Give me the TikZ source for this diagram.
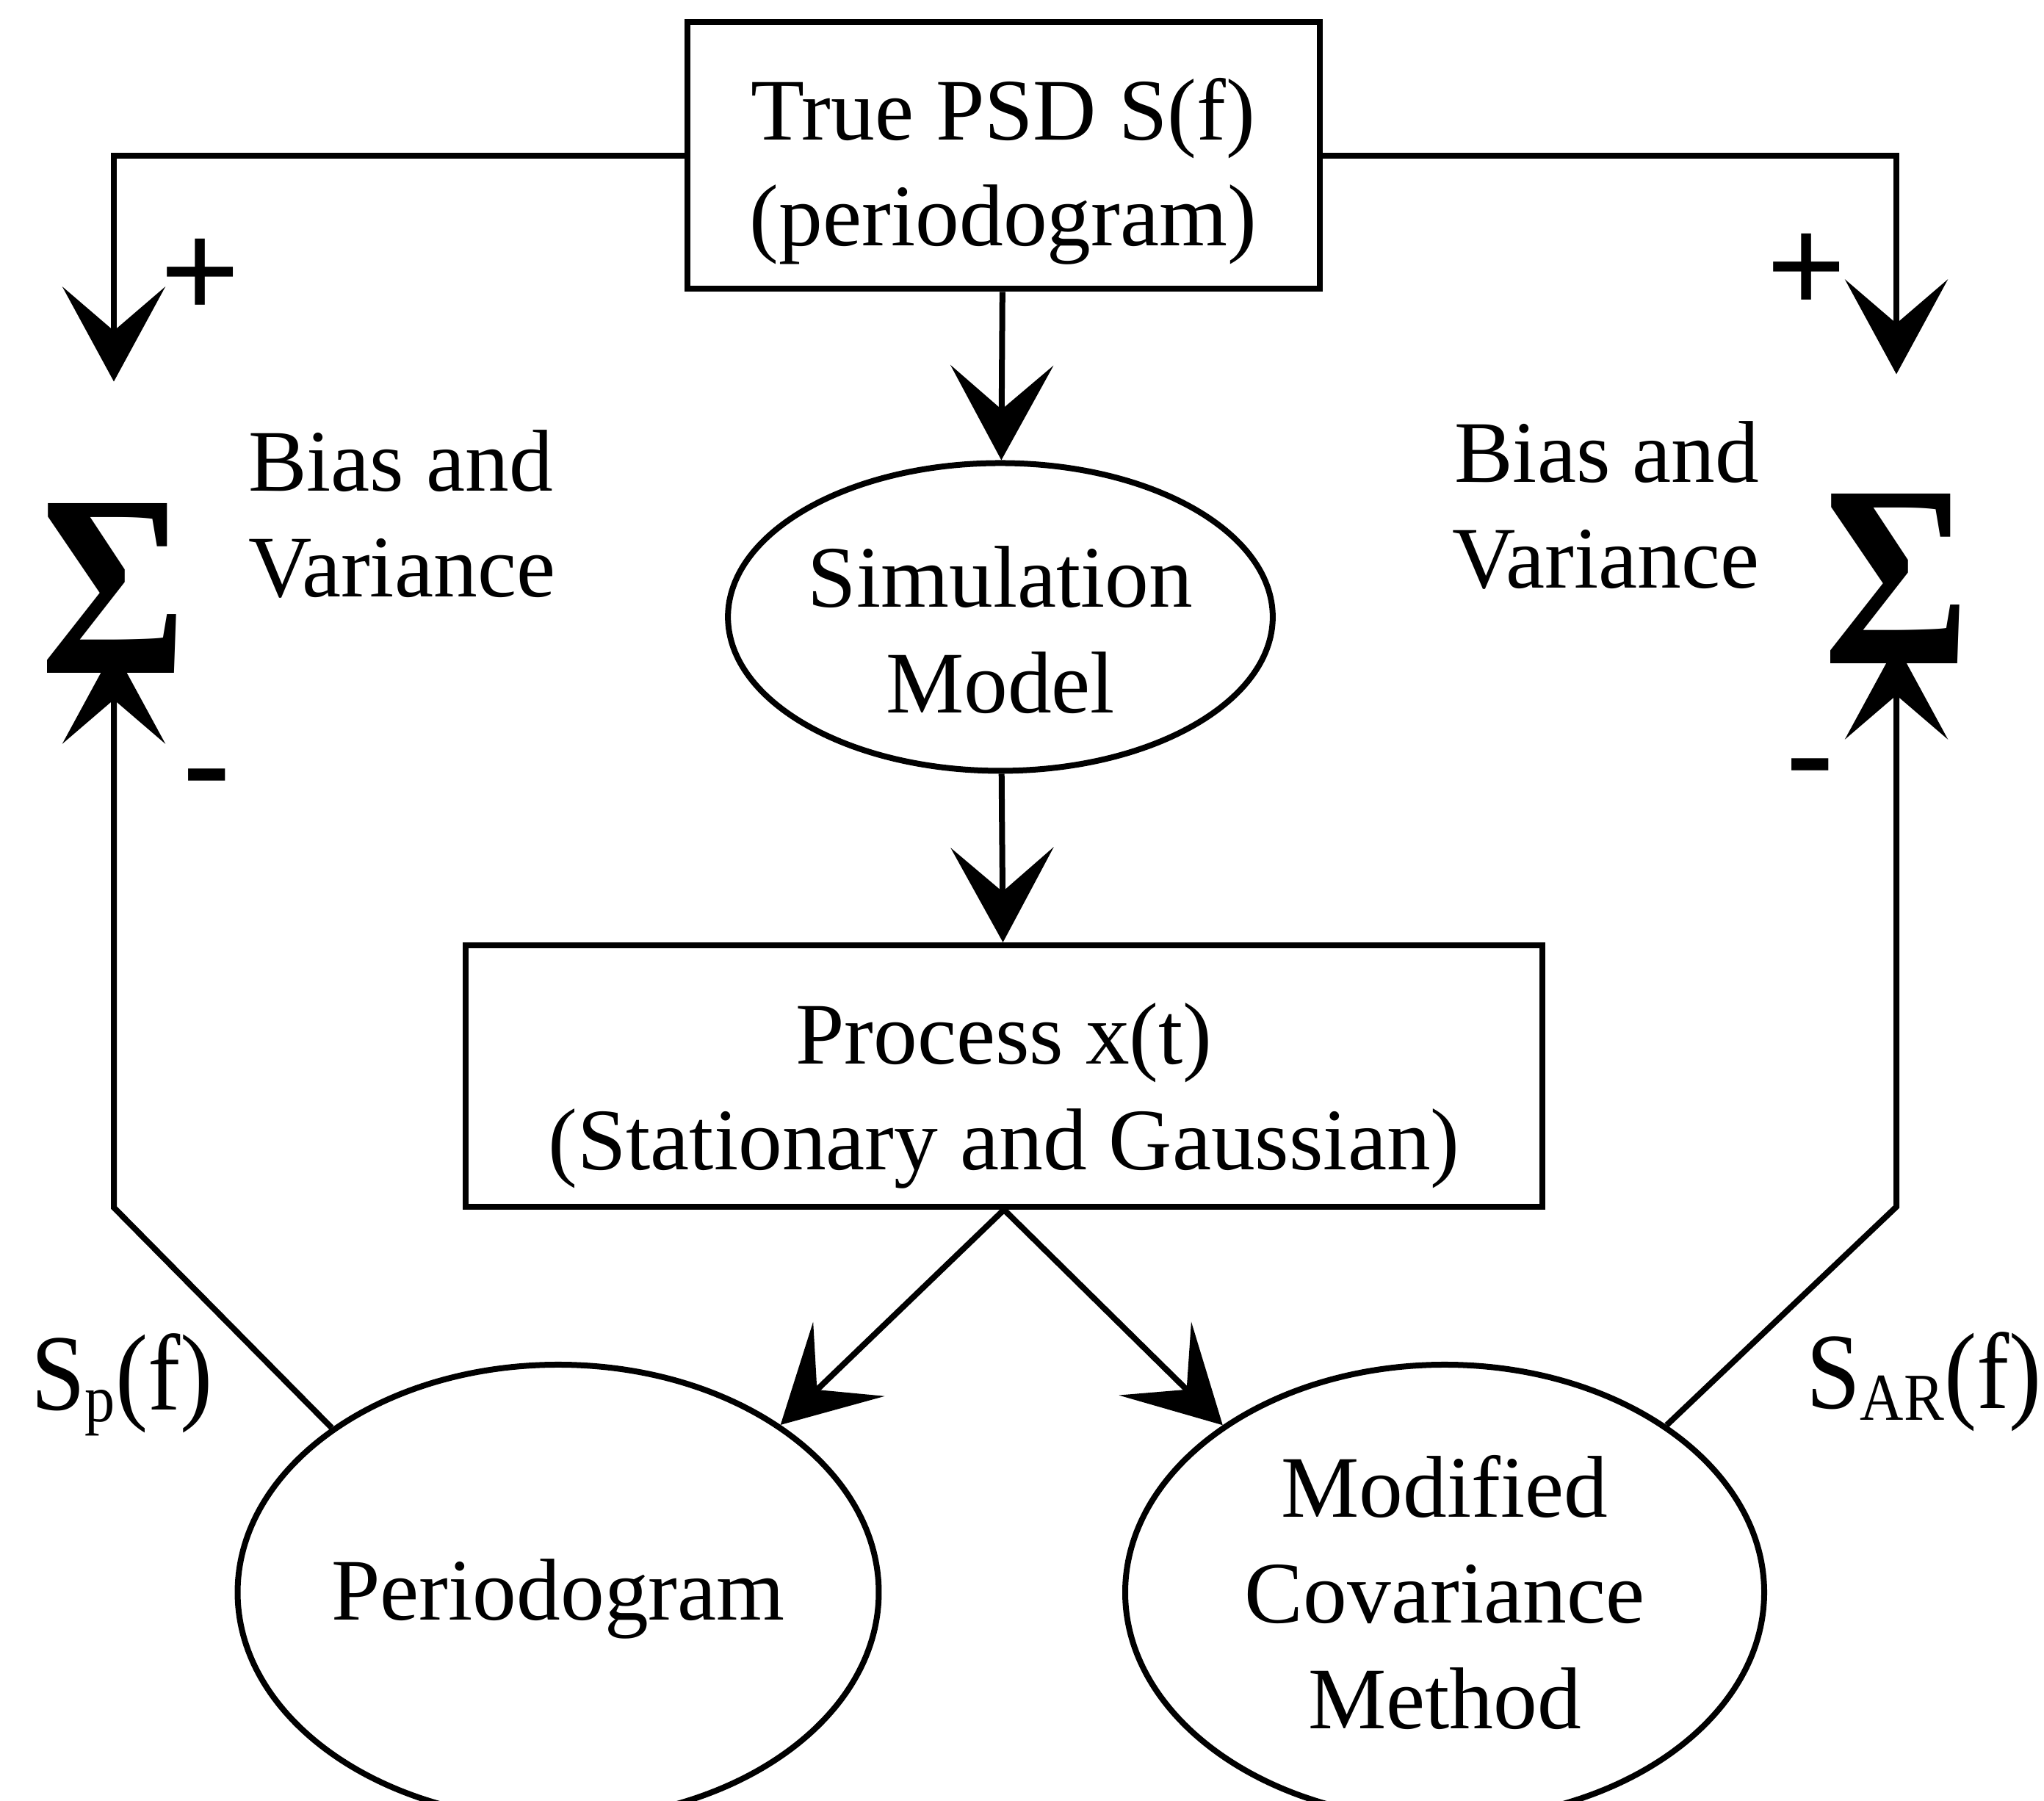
\documentclass[tikz,border=0pt]{standalone}
\usepackage{fontspec}
\setmainfont{Liberation Serif}
\usepackage{graphicx}
\usetikzlibrary{arrows.meta, shapes.geometric}

% lowered small text for the estimate labels
\newcommand{\subtxt}[1]{\raisebox{-4.3pt}{\fontsize{26}{30}\selectfont #1}}
% summing-point glyph, stretched to the drawn size
\newcommand{\sumglyph}{\resizebox*{2.0cm}{2.31cm}{\bfseries Σ}}

\begin{document}
\begin{tikzpicture}[
    line width=0.08cm,
    font=\fontsize{34}{41}\selectfont,
    block/.style={rectangle, draw, inner sep=0pt, align=center},
    oval/.style={ellipse, draw, inner sep=0pt, align=center},
    sumsym/.style={inner sep=0pt},
    sign/.style={inner sep=0pt, font=\fontsize{55}{55}\selectfont\bfseries},
    note/.style={inner sep=0pt},
    estlabel/.style={inner sep=0pt, anchor=base west, font=\fontsize{42}{48}\selectfont},
    flow/.style={-{Stealth[length=1.29cm, width=1.4cm, inset=0.6cm]}}
]
    \useasboundingbox (0,0) rectangle (27.83,24.52);

    % Reference spectrum and simulation chain in the middle
    \node[block, minimum width=8.61cm, minimum height=3.63cm] (truepsd) at (13.66, 22.40) {\rule{0pt}{1.26cm}True PSD S(f)\\(periodogram)};
    \node[oval, minimum width=7.34cm, minimum height=4.19cm] (simmodel) at (13.62, 16.12) {\rule{0pt}{1.18cm}Simulation\\Model};
    \node[block, minimum width=14.66cm, minimum height=3.56cm] (process) at (13.67, 9.87) {\rule{0pt}{1.37cm}Process x(t)\\(Stationary and Gaussian)};

    % Estimators
    \node[oval, minimum width=8.50cm, minimum height=6.20cm] (perio) at (7.60, 2.84) {\rule{0pt}{1.0cm}Periodogram};
    \node[oval, minimum width=8.70cm, minimum height=6.20cm] (covar) at (19.67, 2.84) {Modified\\Covariance\\Method};

    % Summing points
    \node[sumsym] (sumL) at (1.55, 16.51) {\sumglyph};
    \node[sumsym] (sumR) at (25.82, 16.64) {\sumglyph};
    \node[note, anchor=west, align=left] (biasL) at (3.34, 17.52) {Bias and\\Variance};
    \node[note, anchor=east, align=right] (biasR) at (23.99, 17.64) {Bias and\\Variance};

    % Signs at the summing points
    \node[sign] (plusL) at (2.73, 20.72) {+};
    \node[sign] (plusR) at (24.60, 20.79) {+};
    \node[sign] (minusL) at (2.82, 13.78) {-};
    \node[sign] (minusR) at (24.65, 13.92) {-};

    % Estimate labels
    \node[estlabel] (specP) at (0.38, 5.32) {\scalebox{0.9}[1]{S\subtxt{p}(f)}};
    \node[estlabel] (specAR) at (24.55, 5.34) {\scalebox{0.9}[1]{S\subtxt{AR}(f)}};

    \coordinate (kneeL) at (1.55, 8.08);
    \coordinate (kneeR) at (25.82, 8.09);

    % Main chain
    \draw[flow] (truepsd) -- (simmodel);
    \draw[flow] (simmodel) -- (process);
    \draw[flow] (process.south) -- (perio.37);
    \draw[flow] (process.south) -- (covar.143);

    % Positive inputs from the true spectrum
    \draw[flow, shorten >=1.62cm] (truepsd.west) -| (sumL.north);
    \draw[flow, shorten >=1.59cm] (truepsd.east) -| (sumR.north);

    % Negative inputs from the estimates
    \draw[flow, shorten >=-0.37cm] (perio.144) -- (kneeL) -- (sumL.south);
    \draw[flow, shorten >=-0.30cm] (covar.37) -- (kneeR) -- (sumR.south);
\end{tikzpicture}
\end{document}
